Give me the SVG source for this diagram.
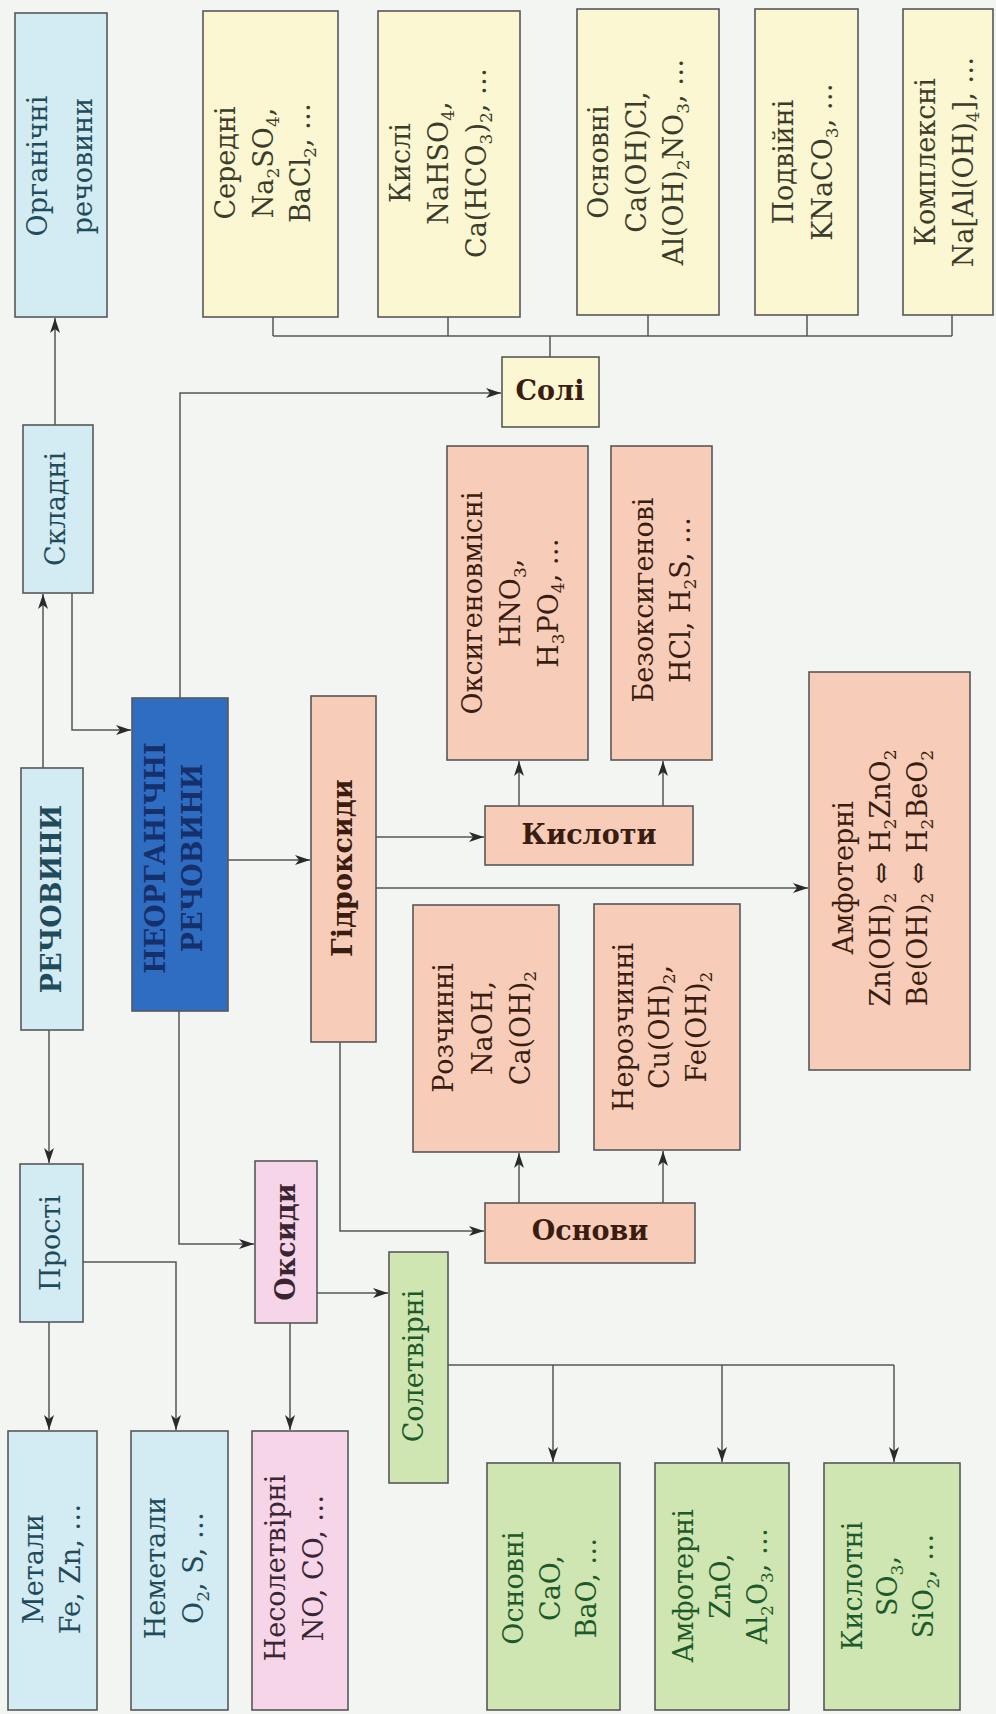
<svg xmlns="http://www.w3.org/2000/svg" width="996" height="1714" viewBox="0 0 996 1714">
<defs>
<style>
.bx{stroke:#585858;stroke-width:1.6}
.fb{fill:#d3ebf2}.fy{fill:#fbf7d2}.fs{fill:#f7cdb9}.fp{fill:#f6d5e8}.fg{fill:#cfe6b2}.fn{fill:#2f6dc2}
text{font-family:"DejaVu Serif","Liberation Serif",serif;font-size:27px;text-anchor:middle}
.tb{fill:#1f4b5b}.ty{fill:#3b3d2a}.ts{fill:#3a1d10}.tp{fill:#3a2533}.tg{fill:#1d5a2a}.tn{fill:#15306b}
.bd{font-weight:bold}
.sb{font-size:17px}
.c{fill:none;stroke:#555;stroke-width:1.5}
.ca{fill:none;stroke:#555;stroke-width:1.5;marker-end:url(#ar)}
</style>
<marker id="ar" markerUnits="userSpaceOnUse" markerWidth="16" markerHeight="12" refX="15" refY="5" orient="auto">
<path d="M0,0 L15,5 L0,10 L4,5 z" fill="#2a2a2a"/>
</marker>
</defs>
<rect width="996" height="1714" fill="#f3f5f3"/>

<g id="connectors">
<path class="ca" d="M55,425 V318"/>
<path class="ca" d="M43,768 V594"/>
<path class="ca" d="M49,1030 V1163"/>
<path class="ca" d="M72,593 V730 H131"/>
<path class="ca" d="M180,698 V393 H501"/>
<path class="ca" d="M228,860 H310"/>
<path class="ca" d="M179,1011 V1244 H254"/>
<path class="ca" d="M376,837 H484"/>
<path class="ca" d="M376,888 H808"/>
<path class="ca" d="M340,1042 V1231 H484"/>
<path class="ca" d="M519,806 V761"/>
<path class="ca" d="M663,806 V761"/>
<path class="ca" d="M519,1203 V1153"/>
<path class="ca" d="M663,1203 V1151"/>
<path class="c" d="M550,357 V336 M273,336 H952 M273,336 V317 M448,336 V317 M648,336 V315 M807,336 V315 M952,336 V315"/>
<path class="ca" d="M49,1322 V1430"/>
<path class="ca" d="M83,1262 H176 V1430"/>
<path class="ca" d="M290,1323 V1430"/>
<path class="ca" d="M317,1293 H388"/>
<path class="c" d="M448,1365 H894"/>
<path class="ca" d="M553,1365 V1462"/>
<path class="ca" d="M722,1365 V1462"/>
<path class="ca" d="M894,1365 V1462"/>
</g>

<g id="organichni">
<rect class="bx fb" x="15" y="13" width="92" height="304"/>
<text class="tb" transform="translate(47,166) rotate(-90)"><tspan x="0" y="0">Органічні</tspan><tspan x="0" y="45">речовини</tspan></text>
</g>

<g id="seredni">
<rect class="bx fy" x="203" y="11" width="135" height="306"/>
<text class="ty" transform="translate(235,163) rotate(-90)"><tspan x="0" y="0">Середні</tspan><tspan x="0" y="38">Na</tspan><tspan class="sb" dy="6">2</tspan><tspan dy="-6">SO</tspan><tspan class="sb" dy="6">4</tspan><tspan dy="-6">,</tspan><tspan x="0" y="75">BaCl</tspan><tspan class="sb" dy="6">2</tspan><tspan dy="-6">, …</tspan></text>
</g>

<g id="kysli">
<rect class="bx fy" x="378" y="11" width="142" height="306"/>
<text class="ty" transform="translate(410,163) rotate(-90)"><tspan x="0" y="0">Кислі</tspan><tspan x="0" y="38">NaHSO</tspan><tspan class="sb" dy="6">4</tspan><tspan dy="-6">,</tspan><tspan x="0" y="76">Ca(HCO</tspan><tspan class="sb" dy="6">3</tspan><tspan dy="-6">)</tspan><tspan class="sb" dy="6">2</tspan><tspan dy="-6">, …</tspan></text>
</g>

<g id="osnovni-soli">
<rect class="bx fy" x="577" y="9" width="142" height="306"/>
<text class="ty" transform="translate(608,162) rotate(-90)"><tspan x="0" y="0">Основні</tspan><tspan x="0" y="38">Ca(OH)Cl,</tspan><tspan x="0" y="75">Al(OH)</tspan><tspan class="sb" dy="6">2</tspan><tspan dy="-6">NO</tspan><tspan class="sb" dy="6">3</tspan><tspan dy="-6">, …</tspan></text>
</g>

<g id="podviini">
<rect class="bx fy" x="755" y="9" width="103" height="306"/>
<text class="ty" transform="translate(793,162) rotate(-90)"><tspan x="0" y="0">Подвійні</tspan><tspan x="0" y="39">KNaCO</tspan><tspan class="sb" dy="6">3</tspan><tspan dy="-6">, …</tspan></text>
</g>

<g id="kompleksni">
<rect class="bx fy" x="903" y="9" width="90" height="306"/>
<text class="ty" transform="translate(935,162) rotate(-90)"><tspan x="0" y="0">Комплексні</tspan><tspan x="0" y="38">Na[Al(OH)</tspan><tspan class="sb" dy="6">4</tspan><tspan dy="-6">], …</tspan></text>
</g>

<g id="skladni">
<rect class="bx fb" x="23" y="425" width="70" height="168"/>
<text class="tb" transform="translate(65,509) rotate(-90)">Складні</text>
</g>

<g id="soli">
<rect class="bx fy" x="502" y="357" width="97" height="70"/>
<text class="ts bd" x="550" y="400">Солі</text>
</g>

<g id="rechovyny">
<rect class="bx fb" x="21" y="768" width="62" height="262"/>
<text class="tb bd" transform="translate(61,899) rotate(-90)">РЕЧОВИНИ</text>
</g>

<g id="neorganichni">
<rect class="bx fn" x="132" y="698" width="96" height="313"/>
<text class="tn bd" transform="translate(165,858) rotate(-90)"><tspan x="0" y="0">НЕОРГАНІЧНІ</tspan><tspan x="0" y="37">РЕЧОВИНИ</tspan></text>
</g>

<g id="gidroksydy">
<rect class="bx fs" x="311" y="696" width="65" height="346"/>
<text class="ts bd" transform="translate(352,868) rotate(-90)">Гідроксиди</text>
</g>

<g id="kysloty">
<rect class="bx fs" x="485" y="806" width="208" height="59"/>
<text class="ts bd" x="589" y="844">Кислоти</text>
</g>

<g id="oksygenovmisni">
<rect class="bx fs" x="447" y="446" width="141" height="314"/>
<text class="ts" transform="translate(482,603) rotate(-90)"><tspan x="0" y="0">Оксигеновмісні</tspan><tspan x="0" y="38">HNO</tspan><tspan class="sb" dy="6">3</tspan><tspan dy="-6">,</tspan><tspan x="0" y="76">H</tspan><tspan class="sb" dy="6">3</tspan><tspan dy="-6">PO</tspan><tspan class="sb" dy="6">4</tspan><tspan dy="-6">, …</tspan></text>
</g>

<g id="bezoksygenovi">
<rect class="bx fs" x="611" y="446" width="101" height="314"/>
<text class="ts" transform="translate(653,600) rotate(-90)"><tspan x="0" y="0">Безоксигенові</tspan><tspan x="0" y="37">HCl, H</tspan><tspan class="sb" dy="6">2</tspan><tspan dy="-6">S, …</tspan></text>
</g>

<g id="amfoterni-gidroksydy">
<rect class="bx fs" x="809" y="672" width="161" height="398"/>
<text class="ts" transform="translate(853,878) rotate(-90)"><tspan x="0" y="0">Амфотерні</tspan><tspan x="0" y="37">Zn(OH)</tspan><tspan class="sb" dy="6">2</tspan><tspan dy="-6"> ⇔ H</tspan><tspan class="sb" dy="6">2</tspan><tspan dy="-6">ZnO</tspan><tspan class="sb" dy="6">2</tspan><tspan x="0" y="74">Be(OH)</tspan><tspan class="sb" dy="6">2</tspan><tspan dy="-6"> ⇔ H</tspan><tspan class="sb" dy="6">2</tspan><tspan dy="-6">BeO</tspan><tspan class="sb" dy="6">2</tspan></text>
</g>

<g id="osnovy">
<rect class="bx fs" x="485" y="1203" width="210" height="60"/>
<text class="ts bd" x="590" y="1240">Основи</text>
</g>

<g id="rozchynni">
<rect class="bx fs" x="413" y="905" width="146" height="247"/>
<text class="ts" transform="translate(453,1028) rotate(-90)"><tspan x="0" y="0">Розчинні</tspan><tspan x="0" y="39">NaOH,</tspan><tspan x="0" y="77">Ca(OH)</tspan><tspan class="sb" dy="6">2</tspan></text>
</g>

<g id="nerozchynni">
<rect class="bx fs" x="594" y="904" width="146" height="246"/>
<text class="ts" transform="translate(633,1027) rotate(-90)"><tspan x="0" y="0">Нерозчинні</tspan><tspan x="0" y="36">Cu(OH)</tspan><tspan class="sb" dy="6">2</tspan><tspan dy="-6">,</tspan><tspan x="0" y="73">Fe(OH)</tspan><tspan class="sb" dy="6">2</tspan></text>
</g>

<g id="prosti">
<rect class="bx fb" x="20" y="1164" width="63" height="158"/>
<text class="tb" transform="translate(60,1243) rotate(-90)">Прості</text>
</g>

<g id="oksydy">
<rect class="bx fp" x="255" y="1161" width="62" height="162"/>
<text class="tp bd" transform="translate(295,1242) rotate(-90)">Оксиди</text>
</g>

<g id="soletvirni">
<rect class="bx fg" x="389" y="1252" width="59" height="231"/>
<text class="tg" transform="translate(423,1366) rotate(-90)">Солетвірні</text>
</g>

<g id="metaly">
<rect class="bx fb" x="8" y="1431" width="89" height="279"/>
<text class="tb" transform="translate(43,1569) rotate(-90)"><tspan x="0" y="0">Метали</tspan><tspan x="0" y="37">Fe, Zn, …</tspan></text>
</g>

<g id="nemetaly">
<rect class="bx fb" x="131" y="1431" width="97" height="279"/>
<text class="tb" transform="translate(165,1568) rotate(-90)"><tspan x="0" y="0">Неметали</tspan><tspan x="0" y="38">O</tspan><tspan class="sb" dy="6">2</tspan><tspan dy="-6">, S, …</tspan></text>
</g>

<g id="nesoletvirni">
<rect class="bx fp" x="252" y="1431" width="96" height="279"/>
<text class="tp" transform="translate(285,1568) rotate(-90)"><tspan x="0" y="0">Несолетвірні</tspan><tspan x="0" y="38">NO, CO, …</tspan></text>
</g>

<g id="osnovni-oksydy">
<rect class="bx fg" x="487" y="1463" width="133" height="247"/>
<text class="tg" transform="translate(523,1588) rotate(-90)"><tspan x="0" y="0">Основні</tspan><tspan x="0" y="37">CaO,</tspan><tspan x="0" y="73">BaO, …</tspan></text>
</g>

<g id="amfoterni-oksydy">
<rect class="bx fg" x="655" y="1463" width="134" height="247"/>
<text class="tg" transform="translate(693,1586) rotate(-90)"><tspan x="0" y="0">Амфотерні</tspan><tspan x="0" y="37">ZnO,</tspan><tspan x="0" y="74">Al</tspan><tspan class="sb" dy="6">2</tspan><tspan dy="-6">O</tspan><tspan class="sb" dy="6">3</tspan><tspan dy="-6">, …</tspan></text>
</g>

<g id="kyslotni">
<rect class="bx fg" x="824" y="1463" width="136" height="247"/>
<text class="tg" transform="translate(862,1586) rotate(-90)"><tspan x="0" y="0">Кислотні</tspan><tspan x="0" y="35">SO</tspan><tspan class="sb" dy="6">3</tspan><tspan dy="-6">,</tspan><tspan x="0" y="71">SiO</tspan><tspan class="sb" dy="6">2</tspan><tspan dy="-6">, …</tspan></text>
</g>
</svg>
